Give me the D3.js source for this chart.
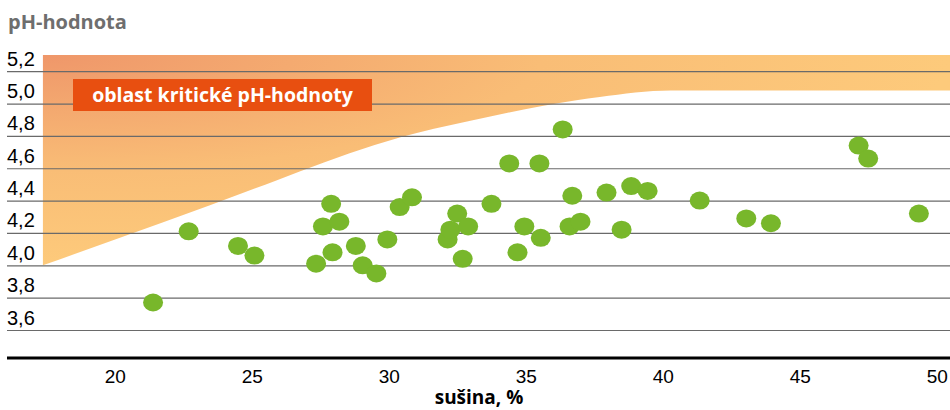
<!DOCTYPE html>
<html>
<head>
<meta charset="utf-8">
<script src="https://cdn.jsdelivr.net/npm/d3@7"></script>
<style>
  html, body { margin: 0; padding: 0; background: #fff; }
  svg { display: block; font-family: "Open Sans", sans-serif; }
</style>
</head>
<body>
<div id="chart"></div>
<script>
// sušina (%) a pH-hodnota jednotlivých vzorků
const dryMatter = [21.4, 22.7, 24.5, 25.1, 27.35, 27.6, 27.9, 27.95, 28.2, 28.8,
  29.05, 29.55, 29.95, 30.4, 30.85, 32.15, 32.25, 32.5, 32.7, 32.9,
  33.75, 34.4, 34.7, 34.95, 35.5, 35.55, 36.35, 36.6, 36.7, 37.0,
  37.95, 38.5, 38.85, 39.45, 41.35, 43.05, 43.95, 47.15, 47.5, 49.35];
const phValues = [3.77, 4.21, 4.12, 4.06, 4.01, 4.24, 4.38, 4.08, 4.27, 4.12,
  4.0, 3.95, 4.16, 4.36, 4.42, 4.16, 4.22, 4.32, 4.04, 4.24,
  4.38, 4.63, 4.08, 4.24, 4.63, 4.17, 4.84, 4.24, 4.43, 4.27,
  4.45, 4.22, 4.49, 4.46, 4.4, 4.29, 4.26, 4.74, 4.66, 4.32];

// spodní hranice oblasti kritické pH-hodnoty (horní hranice = 5,3)
const criticalX = [17.38, 25.9, 26.75, 30.4, 32.9, 36.85, 37.7, 40.3, 50.5];
const criticalLow = [4.0, 4.525, 4.58, 4.79, 4.89, 5.02, 5.04, 5.08, 5.08];
const criticalHigh = 5.3;

const xTicks = [20, 25, 30, 35, 40, 45, 50];
const yTicks = [3.6, 3.8, 4.0, 4.2, 4.4, 4.6, 4.8, 5.0, 5.2];

const W = 950, H = 410;
const left = 7, right = 950, axisY = 358;

const czech = d3.formatLocale({ decimal: ",", thousands: " ", grouping: [3], currency: ["", " Kč"] });
const fmt = czech.format(".1f");

const x = d3.scaleLinear().domain([20, 50]).range([114.7, 936.7]);
const y = d3.scaleLinear().domain([3.6, 5.2]).range([330, 71.2]);

const svg = d3.select('#chart').append('svg')
  .attr('width', W)
  .attr('height', H);

const defs = svg.append('defs');
const grad = defs.append('radialGradient')
  .attr('id', 'critGrad')
  .attr('cx', 0).attr('cy', 0).attr('fx', 0).attr('fy', 0).attr('r', 1);
grad.append('stop').attr('offset', 0).attr('stop-color', '#ef976a');
grad.append('stop').attr('offset', 0.55).attr('stop-color', '#f9bd76');
grad.append('stop').attr('offset', 1).attr('stop-color', '#fdca7b');

defs.append('clipPath').attr('id', 'plotClip')
  .append('rect')
  .attr('x', left).attr('y', 0)
  .attr('width', right - left).attr('height', axisY);

// oblast kritické pH-hodnoty
const band = criticalX.map((d, i) => ({ x: d, lo: criticalLow[i] }));
const area = d3.area()
  .x(d => x(d.x))
  .y0(d => y(d.lo))
  .y1(() => y(criticalHigh))
  .curve(d3.curveMonotoneX);

svg.append('path')
  .datum(band)
  .attr('clip-path', 'url(#plotClip)')
  .attr('fill', 'url(#critGrad)')
  .attr('d', area);

// mřížka + popisky osy y
const yAxis = svg.append('g')
  .attr('transform', `translate(${left},0)`)
  .call(d3.axisRight(y).tickValues(yTicks).tickFormat(fmt).tickSize(right - left));
yAxis.select('.domain').remove();
yAxis.selectAll('line').attr('stroke', '#6a6a6a').attr('stroke-width', 1.2);
yAxis.selectAll('text')
  .attr('x', 0)
  .attr('dy', '-0.3em')
  .attr('text-anchor', 'start')
  .attr('fill', '#000')
  .style('font-size', '20px');

// popisek oblasti
svg.append('rect')
  .attr('x', 73).attr('y', 79)
  .attr('width', 299).attr('height', 32)
  .attr('fill', '#e84f10');
svg.append('text')
  .attr('x', 222.5).attr('y', 102)
  .attr('text-anchor', 'middle')
  .attr('fill', '#fff')
  .style('font-size', '19.5px')
  .style('font-weight', 'bold')
  .text('oblast kritické pH-hodnoty');

// body
svg.append('g')
  .selectAll('ellipse')
  .data(dryMatter)
  .join('ellipse')
  .attr('cx', d => x(d))
  .attr('cy', (d, i) => y(phValues[i]))
  .attr('rx', 10)
  .attr('ry', 9)
  .attr('fill', '#78b72b');

// osa x
const xAxis = svg.append('g')
  .attr('transform', `translate(0,${axisY})`)
  .call(d3.axisBottom(x).tickValues(xTicks).tickSize(0));
xAxis.select('.domain').remove();
xAxis.append('line')
  .attr('x1', left).attr('x2', right)
  .attr('stroke', '#000').attr('stroke-width', 3);
xAxis.selectAll('text')
  .attr('y', 25)
  .attr('dy', 0)
  .attr('fill', '#000')
  .style('font-size', '19px');

svg.append('text')
  .attr('x', 8).attr('y', 29)
  .attr('fill', '#6e6e6e')
  .style('font-size', '20px')
  .style('font-weight', 'bold')
  .text('pH-hodnota');

svg.append('text')
  .attr('x', 479).attr('y', 404)
  .attr('text-anchor', 'middle')
  .attr('fill', '#000')
  .style('font-size', '19px')
  .style('font-weight', 'bold')
  .text('sušina, %');
</script>
</body>
</html>
